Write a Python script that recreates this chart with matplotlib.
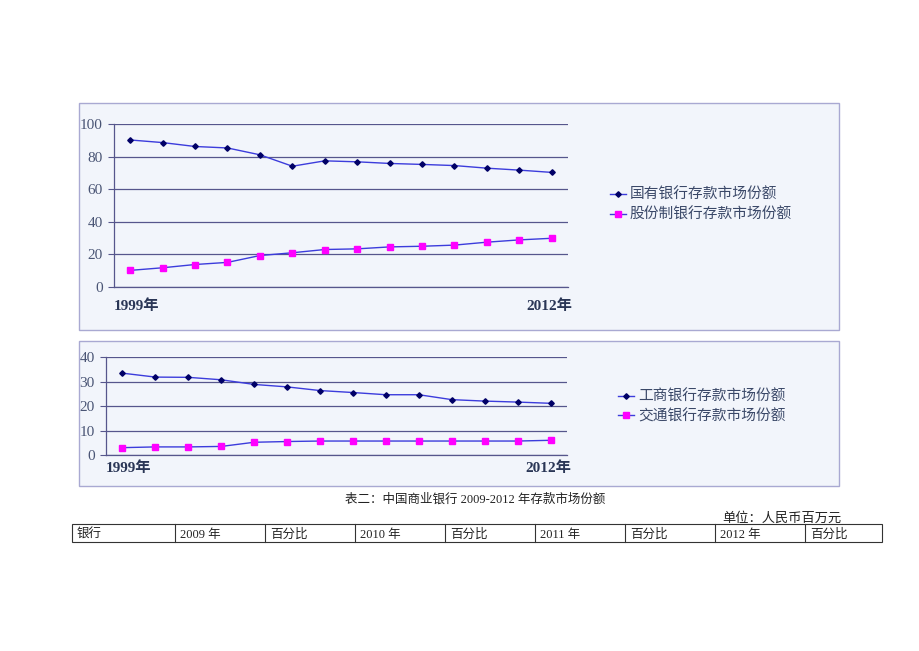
import matplotlib
matplotlib.use("Agg")
import matplotlib.pyplot as plt
from matplotlib.patches import Rectangle
from matplotlib.lines import Line2D

plt.rcParams['font.family'] = ['Noto Sans CJK SC', 'DejaVu Sans']

years = list(range(1999, 2013))
state_banks = [90.2, 88.6, 86.2, 85.3, 81.1, 74.1, 77.4, 76.8, 75.8, 75.2, 74.5, 72.9, 71.7, 70.3]
joint_stock = [10.2, 11.8, 13.8, 15.1, 19.3, 21.0, 23.0, 23.4, 24.6, 25.0, 25.7, 27.5, 28.9, 29.9]
icbc = [33.4, 31.8, 31.7, 30.7, 28.8, 27.8, 26.3, 25.5, 24.6, 24.6, 22.6, 22.0, 21.6, 21.1]
bocom = [3.0, 3.3, 3.3, 3.5, 5.2, 5.5, 5.7, 5.7, 5.7, 5.7, 5.7, 5.7, 5.7, 6.0]

chart1_labels = ["国有银行存款市场份额", "股份制银行存款市场份额"]
chart2_labels = ["工商银行存款市场份额", "交通银行存款市场份额"]
x_first_label = "1999年"
x_last_label = "2012年"

caption = "表二：中国商业银行 2009-2012 年存款市场份额"
unit_text = "单位：人民币百万元"
table_header = ["银行", "2009 年", "百分比", "2010 年", "百分比", "2011 年", "百分比", "2012 年", "百分比"]

W, H = 920, 651
fig = plt.figure(figsize=(W / 100, H / 100), dpi=100)
fig.patch.set_facecolor("white")

BG = "#F2F5FB"
FRAME = "#A9A9D2"
GRID = "#56568C"
LINE = "#3C3CDC"
NAVY = "#000066"
MAG = "#FF00FF"
TICKC = "#4A5575"
LEGC = "#3A4868"
DMS = 2.8
SMS = 3.8


def fx(px):
    return px / W


def fy(py):
    return 1 - py / H


def frame(l, t, r, b):
    fig.add_artist(Rectangle((fx(l), fy(b)), fx(r - l), (b - t) / H,
                             transform=fig.transFigure, facecolor=BG,
                             edgecolor=FRAME, linewidth=1.0, zorder=-5))


def chart(l, t, r, b, s1, s2, ymax, step, labels, leg_x, leg_y1, leg_y2, xlab_off):
    ax = fig.add_axes([fx(l), fy(b), fx(r - l), (b - t) / H])
    ax.set_zorder(2)
    ax.set_facecolor("none")
    x = list(range(len(years)))
    ax.plot(x, s1, color=LINE, lw=1.0, marker="D", ms=DMS, mfc=NAVY, mec=NAVY, zorder=3)
    ax.plot(x, s2, color=LINE, lw=1.0, marker="s", ms=SMS, mfc=MAG, mec=MAG, zorder=3)
    ax.set_xlim(-0.5, len(years) - 0.5)
    ax.set_ylim(0, ymax)
    ticks = list(range(0, ymax + 1, step))
    ax.set_yticks(ticks)
    ax.set_yticklabels([str(v) for v in ticks], family=['Liberation Serif'],
                       fontsize=11, color=TICKC)
    ax.tick_params(axis='y', length=4, color=GRID, pad=4)
    ax.set_xticks([])
    for v in ticks:
        ax.axhline(v, color=GRID, lw=0.9, zorder=1)
    for s in ["top", "right"]:
        ax.spines[s].set_visible(False)
    ax.spines["left"].set_color(GRID)
    ax.spines["bottom"].set_color(GRID)
    ax.spines["left"].set_linewidth(0.9)
    ax.spines["bottom"].set_linewidth(0.9)
    ytxt = -xlab_off / (b - t)
    ax.text(0.0, ytxt, x_first_label, transform=ax.transAxes, ha="left", va="top",
            family=['Liberation Serif', 'Noto Sans CJK SC'], fontweight="bold",
            fontsize=11, color="#2A3656")
    ax.text(1.01, ytxt, x_last_label, transform=ax.transAxes, ha="right", va="top",
            family=['Liberation Serif', 'Noto Sans CJK SC'], fontweight="bold",
            fontsize=11, color="#2A3656")
    # legend
    for yy, mk, mc, ms, lab in [(leg_y1, "D", NAVY, DMS, labels[0]), (leg_y2, "s", MAG, SMS, labels[1])]:
        fig.add_artist(Line2D([fx(leg_x), fx(leg_x + 16)], [fy(yy), fy(yy)], color=LINE, lw=1.0,
                              transform=fig.transFigure))
        fig.add_artist(Line2D([fx(leg_x + 8)], [fy(yy)], marker=mk, ms=ms, mfc=mc, mec=mc,
                              transform=fig.transFigure, lw=0))
        fig.text(fx(leg_x + 20), fy(yy + 1), lab, ha="left", va="center", fontsize=10.6, color=LEGC)
    return ax


frame(79, 103, 839, 330)
chart(114, 124, 568, 287, state_banks, joint_stock, 100, 20, chart1_labels, 610, 194, 214, 12)

frame(79, 341, 839, 486)
chart(106, 357, 567, 455, icbc, bocom, 40, 10, chart2_labels, 618, 396, 415, 6)

serif_cjk = ['Liberation Serif', 'Noto Sans CJK SC']
fig.text(fx(475), fy(500), caption, ha="center", va="center", family=serif_cjk,
         fontsize=9, color="#222222")
fig.text(fx(842), fy(518), unit_text, ha="right", va="center", family=serif_cjk,
         fontsize=9.5, color="#222222")

# table header row
col_edges = [72, 175, 265, 355, 445, 535, 625, 715, 805, 882]
top, bot = 524, 542
fig.add_artist(Rectangle((fx(col_edges[0]), fy(bot)), fx(col_edges[-1] - col_edges[0]), (bot - top) / H,
                         transform=fig.transFigure, facecolor="none", edgecolor="#333333", lw=0.8))
for e in col_edges[1:-1]:
    fig.add_artist(Line2D([fx(e), fx(e)], [fy(top), fy(bot)], color="#333333", lw=0.8,
                          transform=fig.transFigure))
for i, txt in enumerate(table_header):
    fig.text(fx(col_edges[i] + 5), fy((top + bot) / 2 + 2), txt, ha="left", va="center",
             family=serif_cjk, fontsize=9, color="#222222")

fig.savefig("out.png", dpi=100, facecolor="white")
